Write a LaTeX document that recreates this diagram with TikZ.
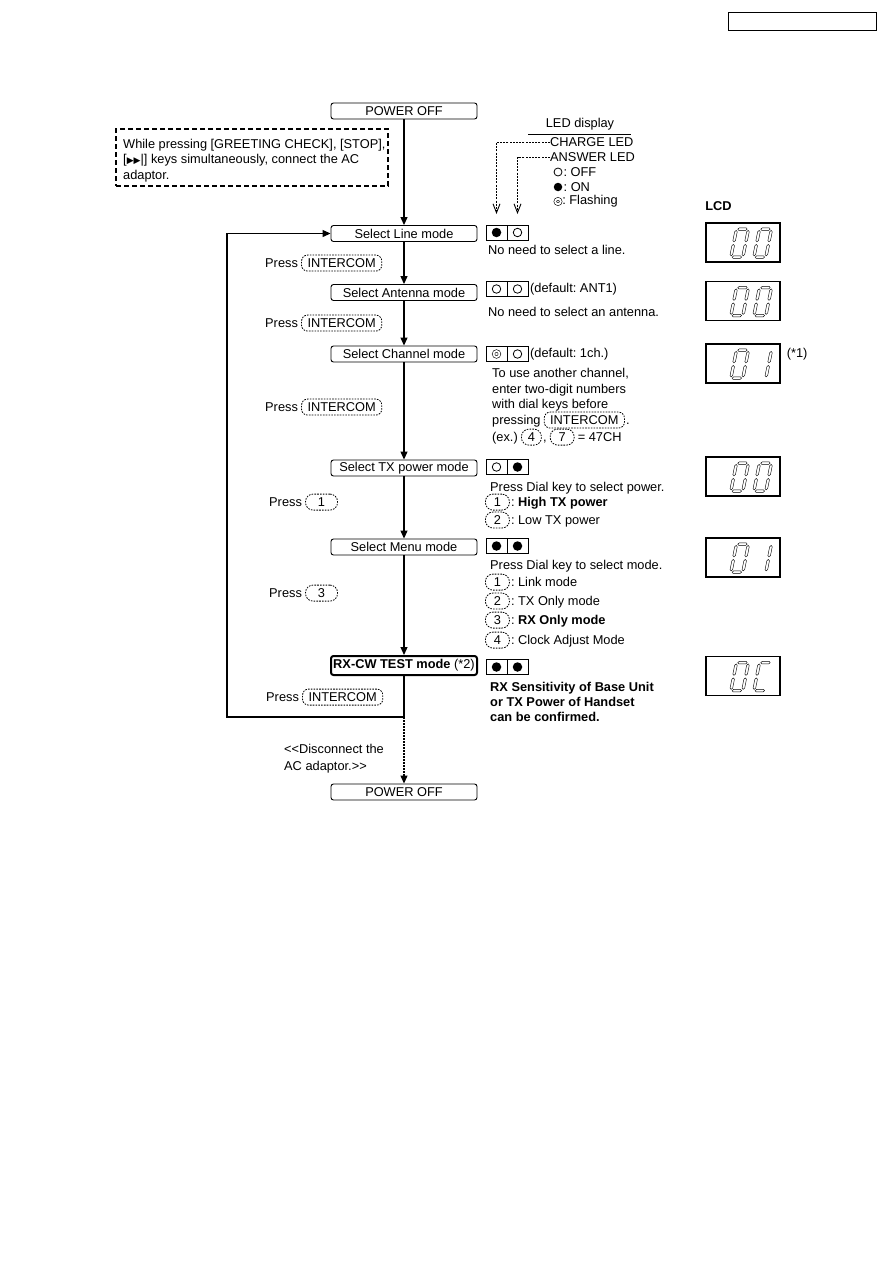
\documentclass[tikz,border=0pt]{standalone}
\usepackage{fontspec}
\setmainfont{Liberation Sans}
\newfontfamily\symfont{DejaVu Sans}
\usepackage{tikz}
\usetikzlibrary{arrows.meta,positioning,shapes.geometric,calc}
\frenchspacing

% seven segment pieces (local units, y up)
\newcommand{\hseg}[1]{\draw[segline] (1.3,#1) -- (2.6,#1+1.3) -- (9.4,#1+1.3) -- (10.7,#1) -- (9.4,#1-1.3) -- (2.6,#1-1.3) -- cycle;}
\newcommand{\vseg}[3]{\draw[segline] (#1,#2+1.3) -- (#1+1.3,#2+2.6) -- (#1+1.3,#3-2.6) -- (#1,#3-1.3) -- (#1-1.3,#3-2.6) -- (#1-1.3,#2+2.6) -- cycle;}
\newcommand{\lcdsegA}{\hseg{28}}
\newcommand{\lcdsegG}{\hseg{14}}
\newcommand{\lcdsegD}{\hseg{0}}
\newcommand{\lcdsegF}{\vseg{0}{14}{28}}
\newcommand{\lcdsegE}{\vseg{0}{0}{14}}
\newcommand{\lcdsegB}{\vseg{12}{14}{28}}
\newcommand{\lcdsegC}{\vseg{12}{0}{14}}
\newcommand{\lcdglyph}[2]{\begin{scope}[shift={#1},x=1pt,y=1pt,xslant=0.2]
  \foreach \s in {#2}{\csname lcdseg\s\endcsname}\end{scope}}
% pair of LED cells
\newcommand{\ledpair}[4]{%
  \node[ledcell] (#1a) at (#2) {};
  \node[ledcell,right=0pt of #1a] (#1b) {};
  \node[#3] (#1x) at (#1a) {};
  \node[#4] (#1y) at (#1b) {};}

\begin{document}
\begin{tikzpicture}[x=1pt,y=-1pt,
    font=\fontsize{12.8}{15.5}\selectfont,
    >={Triangle[length=8pt,width=7pt]},
    flowbox/.style={draw,line width=0.9pt,rounded corners=2.5pt,minimum width=146pt,minimum height=16pt,inner sep=0pt},
    flowline/.style={line width=1.2pt},
    key/.style={draw,dash pattern=on 1.6pt off 1.2pt,line width=0.8pt,rounded corners=6pt,inner xsep=6pt,inner ysep=1.5pt,minimum height=16pt},
    numkey/.style={key,inner xsep=3pt,minimum width=24pt,rounded corners=7.5pt},
    txt/.style={inner sep=0pt,anchor=base west},
    ledcell/.style={draw,line width=0.9pt,minimum width=21pt,minimum height=15pt,inner sep=0pt,outer sep=0pt},
    ledon/.style={circle,fill,inner sep=0pt,minimum size=9.5pt},
    ledoff/.style={circle,draw,line width=0.8pt,inner sep=0pt,minimum size=8.5pt},
    ledfl/.style={circle,draw,line width=0.6pt,double,double distance=1.8pt,inner sep=0pt,minimum size=6pt},
    ledline/.style={line width=0.9pt,dash pattern=on 2pt off 1.2pt,-{Straight Barb[length=9pt,width=7pt,line width=0.9pt]}},
    lcdbox/.style={draw,line width=1.3pt,minimum width=74pt,minimum height=39pt,inner sep=0pt},
    segline/.style={line width=0.45pt}
  ]
  \useasboundingbox (0,0) rectangle (893,1263);
  \node[draw,line width=0.8pt,minimum width=148pt,minimum height=18pt] (hdr) at (802,21) {};

  % main flow
  \node[flowbox] (off1) at (404,111) {POWER OFF};
  \node[flowbox] (line) at (404,233.5) {Select Line mode};
  \node[flowbox] (ant) at (404,292.5) {Select Antenna mode};
  \node[flowbox] (chan) at (404,354) {Select Channel mode};
  \node[flowbox] (txp) at (404,468) {Select TX power mode};
  \node[flowbox] (menu) at (404,547) {Select Menu mode};
  \node[flowbox,line width=2pt,minimum height=19pt] (rx) at (404,665.5) {\textbf{RX-CW TEST mode} (*2)};
  \node[flowbox] (off2) at (404,792) {POWER OFF};
  \foreach \a/\b in {off1/line,line/ant,ant/chan,chan/txp,txp/menu,menu/rx}
    \draw[flowline,->] (\a) -- (\b);
  \coordinate (lpr) at (404,717);
  \coordinate (lpl) at (227,717);
  \draw[flowline,->] (rx.south) -- (lpr) -- (lpl) |- (line.west);
  \draw[flowline,dash pattern=on 1.5pt off 1.5pt,->] (lpr) -- (off2.north);

  \node[draw,line width=1.2pt,dash pattern=on 5pt off 3pt,minimum width=272pt,minimum height=57pt] (note) at (252,157.5) {};
  \node[align=left,anchor=west,inner sep=0pt,font=\fontsize{12.8}{15.5}\selectfont] (notetxt) at (123,160.5)
    {While pressing [GREETING CHECK], [STOP],\\{}[{\symfont\fontsize{9}{9}\selectfont ▶▶}|] keys simultaneously, connect the AC\\{}adaptor.};

  % press labels
  \node[txt] (pr1) at (265,267.5) {Press};
  \node[key,base right=3pt of pr1] (pk1) {INTERCOM};
  \node[txt] (pr2) at (265,327.5) {Press};
  \node[key,base right=3pt of pr2] (pk2) {INTERCOM};
  \node[txt] (pr3) at (265,411.5) {Press};
  \node[key,base right=3pt of pr3] (pk3) {INTERCOM};
  \node[txt] (pr4) at (269,506.5) {Press};
  \node[numkey,minimum width=32pt,base right=3pt of pr4] (pk4) {1};
  \node[txt] (pr5) at (269,597.5) {Press};
  \node[numkey,minimum width=32pt,base right=3pt of pr5] (pk5) {3};
  \node[txt] (pr6) at (266,701.5) {Press};
  \node[key,base right=3pt of pr6] (pk6) {INTERCOM};
  \node[align=left,anchor=west,inner sep=0pt,font=\fontsize{12.8}{17}\selectfont] (disc) at (284,759) {<{}<Disconnect the\\AC adaptor.>{}>};

  % LED display legend
  \node (ledttl) at (580,124) {LED display};
  \draw[line width=0.8pt] (528,134) -- (631,134);
  \node[txt,anchor=west] (chg) at (550,142) {CHARGE LED};
  \node[txt,anchor=west] (ans) at (550,157) {ANSWER LED};
  \node[ledoff,minimum size=8pt] (sym1) at (558,172) {};
  \node[ledon,minimum size=8.5pt] (sym2) at (558,187) {};
  \node[ledfl,minimum size=5.5pt,double distance=1.9pt] (sym3) at (558,201.5) {};
  \node[txt,anchor=west,right=1pt of sym1] (lg1) {: OFF};
  \node[txt,anchor=west,right=1pt of sym2] (lg2) {: ON};
  \node[txt,anchor=west,right=1pt of sym3] (lg3) {: Flashing};

  % LED states and notes
  \ledpair{la}{496.5,232.5}{ledon}{ledoff}
  \draw[ledline] (chg.west) -| ($(laa.north)+(0,-11)$);
  \draw[ledline] (ans.west) -| ($(lab.north)+(0,-11)$);
  \node[txt] (n1) at (488,254.5) {No need to select a line.};

  \ledpair{lb}{496.5,289}{ledoff}{ledoff}
  \node[inner sep=0pt,right=2pt of lbb] (d2) {(default: ANT1)};
  \node[txt] (n2) at (488,316) {No need to select an antenna.};

  \ledpair{lc}{496.5,354}{ledfl}{ledoff}
  \node[inner sep=0pt,right=2pt of lcb] (d3) {(default: 1ch.)};
  \node[txt] (c1) at (492,377.5) {To use another channel,};
  \node[txt] (c2) at (492,393.5) {enter two-digit numbers};
  \node[txt] (c3) at (492,408.5) {with dial keys before};
  \node[txt] (c4) at (492,424.5) {pressing};
  \node[key,base right=3pt of c4] (c4k) {INTERCOM};
  \node[txt,base right=1pt of c4k] (c4e) {.};
  \node[txt] (c5) at (492,441.5) {(ex.)};
  \node[numkey,minimum width=20pt,base right=3pt of c5] (c5a) {4};
  \node[txt,base right=1pt of c5a] (c5b) {,};
  \node[numkey,base right=3pt of c5b] (c5c) {7};
  \node[txt,base right=3pt of c5c] (c5d) {= 47CH};

  \ledpair{ld}{496.5,467}{ledoff}{ledon}
  \node[txt] (t1) at (490,491.5) {Press Dial key to select power.};
  \node[numkey,txt] (t2k) at (485,506.5) {1};
  \node[txt,base right=1pt of t2k] (t2) {: \textbf{High TX power}};
  \node[numkey,txt] (t3k) at (485,524.5) {2};
  \node[txt,base right=1pt of t3k] (t3) {: Low TX power};

  \ledpair{le}{496.5,546}{ledon}{ledon}
  \node[txt] (m1) at (490,569.5) {Press Dial key to select mode.};
  \node[numkey,txt] (m2k) at (485,586.5) {1};
  \node[txt,base right=1pt of m2k] (m2) {: Link mode};
  \node[numkey,txt] (m3k) at (485,605.5) {2};
  \node[txt,base right=1pt of m3k] (m3) {: TX Only mode};
  \node[numkey,txt] (m4k) at (485,624.5) {3};
  \node[txt,base right=1pt of m4k] (m4) {: \textbf{RX Only mode}};
  \node[numkey,txt] (m5k) at (485,644.5) {4};
  \node[txt,base right=1pt of m5k] (m5) {: Clock Adjust Mode};

  \ledpair{lf}{496.5,667}{ledon}{ledon}
  \node[txt] (r1) at (490,691.5) {\textbf{RX Sensitivity of Base Unit}};
  \node[txt] (r2) at (490,706.5) {\textbf{or TX Power of Handset}};
  \node[txt] (r3) at (490,721.5) {\textbf{can be confirmed.}};

  % LCD column
  \node (lcdttl) at (718.5,206) {\textbf{LCD}};
  \node[lcdbox] (lcd1) at (743,242.5) {};
  \node[lcdbox] (lcd2) at (743,301) {};
  \node[lcdbox] (lcd3) at (743,363.5) {};
  \node[lcdbox] (lcd4) at (743,476.5) {};
  \node[lcdbox] (lcd5) at (743,557.5) {};
  \node[lcdbox] (lcd6) at (743,676) {};
  \node[right=6pt of lcd3.north east,anchor=north west,inner sep=0pt,yshift=-5pt] (fn1) {(*1)};
  \lcdglyph{($(lcd1.south west)+(25.5,-5.5)$)}{A,B,C,D,E,F}
  \lcdglyph{($(lcd1.south west)+(48.5,-5.5)$)}{A,B,C,D,E,F}
  \lcdglyph{($(lcd2.south west)+(25.5,-5.5)$)}{A,B,C,D,E,F}
  \lcdglyph{($(lcd2.south west)+(48.5,-5.5)$)}{A,B,C,D,E,F}
  \lcdglyph{($(lcd3.south west)+(25.5,-5.5)$)}{A,B,C,D,E,F}
  \lcdglyph{($(lcd3.south west)+(48.5,-5.5)$)}{B,C}
  \lcdglyph{($(lcd4.south west)+(25.5,-5.5)$)}{A,B,C,D,E,F}
  \lcdglyph{($(lcd4.south west)+(48.5,-5.5)$)}{A,B,C,D,E,F}
  \lcdglyph{($(lcd5.south west)+(25.5,-5.5)$)}{A,B,C,D,E,F}
  \lcdglyph{($(lcd5.south west)+(48.5,-5.5)$)}{B,C}
  \lcdglyph{($(lcd6.south west)+(25.5,-5.5)$)}{A,B,C,D,E,F}
  \lcdglyph{($(lcd6.south west)+(48.5,-5.5)$)}{A,D,E,F}
\end{tikzpicture}
\end{document}
